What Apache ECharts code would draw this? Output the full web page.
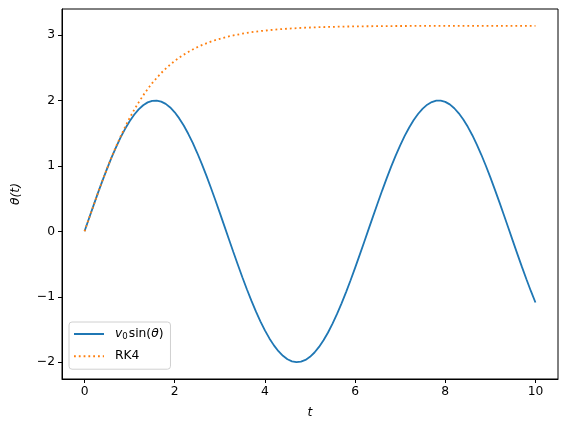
<!DOCTYPE html>
<html>
<head>
<meta charset="utf-8">
<script src="https://cdn.jsdelivr.net/npm/echarts@6/dist/echarts.min.js"></script>
<style>
  html, body { margin: 0; padding: 0; background: #fff; }
  #chart { width: 567px; height: 432px; }
</style>
</head>
<body>
<div id="chart"></div>
<script>
// time samples
const tVals = [0, 0.1, 0.2, 0.3, 0.4, 0.5, 0.6, 0.7, 0.8, 0.9,
  1, 1.1, 1.2, 1.3, 1.4, 1.5, 1.6, 1.7, 1.8, 1.9,
  2, 2.1, 2.2, 2.3, 2.4, 2.5, 2.6, 2.7, 2.8, 2.9,
  3, 3.1, 3.2, 3.3, 3.4, 3.5, 3.6, 3.7, 3.8, 3.9,
  4, 4.1, 4.2, 4.3, 4.4, 4.5, 4.6, 4.7, 4.8, 4.9,
  5, 5.1, 5.2, 5.3, 5.4, 5.5, 5.6, 5.7, 5.8, 5.9,
  6, 6.1, 6.2, 6.3, 6.4, 6.5, 6.6, 6.7, 6.8, 6.9,
  7, 7.1, 7.2, 7.3, 7.4, 7.5, 7.6, 7.7, 7.8, 7.9,
  8, 8.1, 8.2, 8.3, 8.4, 8.5, 8.6, 8.7, 8.8, 8.9,
  9, 9.1, 9.2, 9.3, 9.4, 9.5, 9.6, 9.7, 9.8, 9.9, 10]

// v0 sin(theta) curve
const sinVals = [0, 0.200, 0.397, 0.591, 0.779, 0.959, 1.129, 1.288, 1.435, 1.567,
  1.683, 1.782, 1.864, 1.927, 1.971, 1.995, 1.999, 1.983, 1.948, 1.893,
  1.819, 1.726, 1.617, 1.491, 1.351, 1.197, 1.031, 0.855, 0.670, 0.479,
  0.282, 0.083, -0.117, -0.316, -0.511, -0.702, -0.885, -1.060, -1.224, -1.376,
  -1.514, -1.637, -1.743, -1.832, -1.903, -1.955, -1.987, -2.000, -1.992, -1.965,
  -1.918, -1.852, -1.767, -1.665, -1.546, -1.411, -1.263, -1.101, -0.929, -0.748,
  -0.559, -0.364, -0.166, 0.034, 0.233, 0.430, 0.623, 0.810, 0.988, 1.157,
  1.314, 1.458, 1.587, 1.701, 1.797, 1.876, 1.936, 1.976, 1.997, 1.998,
  1.979, 1.940, 1.881, 1.804, 1.709, 1.597, 1.469, 1.326, 1.170, 1.002,
  0.824, 0.638, 0.446, 0.249, 0.050, -0.150, -0.349, -0.544, -0.733, -0.915, -1.088]

// RK4 curve
const rk4Vals = [0, 0.200, 0.397, 0.591, 0.780, 0.961, 1.134, 1.298, 1.452, 1.597,
  1.732, 1.856, 1.971, 2.077, 2.175, 2.264, 2.345, 2.419, 2.486, 2.548,
  2.604, 2.654, 2.700, 2.742, 2.780, 2.814, 2.845, 2.873, 2.899, 2.922,
  2.943, 2.962, 2.979, 2.994, 3.008, 3.021, 3.032, 3.043, 3.052, 3.061,
  3.068, 3.075, 3.082, 3.087, 3.093, 3.097, 3.101, 3.105, 3.109, 3.112,
  3.115, 3.117, 3.120, 3.122, 3.124, 3.125, 3.127, 3.128, 3.130, 3.131,
  3.132, 3.133, 3.134, 3.134, 3.135, 3.136, 3.136, 3.137, 3.137, 3.138,
  3.138, 3.138, 3.139, 3.139, 3.139, 3.139, 3.140, 3.140, 3.140, 3.140,
  3.140, 3.140, 3.141, 3.141, 3.141, 3.141, 3.141, 3.141, 3.141, 3.141,
  3.141, 3.141, 3.141, 3.141, 3.141, 3.141, 3.141, 3.141, 3.141, 3.141, 3.141]

const xTicks = [0, 2, 4, 6, 8, 10]
const yTicks = [-2, -1, 0, 1, 2, 3]

const font = 'DejaVu Sans'
const fs = 12.3
const minus = (v) => String(v).replace('-', '\u2212')

const chart = echarts.init(document.getElementById('chart'))

chart.setOption({
  animation: false,
  grid: {
    left: 62, right: 9, top: 9, bottom: 53,
    show: true, borderColor: '#000', borderWidth: 1
  },
  legend: {
    left: 69, top: 322,
    orient: 'vertical',
    itemWidth: 30, itemHeight: 14, itemGap: 8.7,
    padding: [6, 7, 7, 4],
    backgroundColor: 'rgba(255,255,255,0.8)',
    borderColor: '#d0d0d0', borderWidth: 1, borderRadius: 3,
    itemStyle: { opacity: 0, borderWidth: 0 },
    data: ['sin', 'RK4'],
    formatter: (name) => name === 'sin'
      ? '{iv|v}{sub|0}{n|sin(}{i|θ}{n|)}'
      : '{nf|RK4}',
    textStyle: {
      fontFamily: font, fontSize: fs, color: '#000',
      rich: {
        iv: { fontFamily: font, fontSize: fs, fontStyle: 'italic', color: '#000', padding: [0, 0, 0, 6] },
        nf: { fontFamily: font, fontSize: fs, color: '#000', padding: [0, 0, 0, 6] },
        i: { fontFamily: font, fontSize: fs, fontStyle: 'italic', color: '#000' },
        n: { fontFamily: font, fontSize: fs, color: '#000' },
        sub: { fontFamily: font, fontSize: 8.6, color: '#000', verticalAlign: 'bottom', padding: [6, 1, 0, 0] }
      }
    }
  },
  xAxis: {
    type: 'value',
    min: -0.5, max: 10.5,
    name: 't',
    nameLocation: 'middle',
    nameGap: 28,
    nameTextStyle: { fontFamily: font, fontSize: fs, fontStyle: 'italic', color: '#000' },
    splitLine: { show: false },
    axisLine: { onZero: false, lineStyle: { color: '#000', width: 1 } },
    axisTick: { show: true, length: 4, lineStyle: { color: '#000' }, customValues: xTicks },
    axisLabel: {
      fontFamily: font, fontSize: fs, color: '#000', margin: 7,
      customValues: xTicks, formatter: minus
    }
  },
  yAxis: {
    type: 'value',
    min: -2.257, max: 3.398,
    name: 'θ(t)',
    nameLocation: 'middle',
    nameGap: 40,
    nameTextStyle: { fontFamily: font, fontSize: fs, fontStyle: 'italic', color: '#000' },
    splitLine: { show: false },
    axisLine: { onZero: false, lineStyle: { color: '#000', width: 1 } },
    axisTick: { show: true, length: 4, lineStyle: { color: '#000' }, customValues: yTicks },
    axisLabel: {
      fontFamily: font, fontSize: fs, color: '#000', margin: 7,
      customValues: yTicks, formatter: minus
    }
  },
  series: [
    {
      name: 'sin',
      type: 'line',
      data: tVals.map((t, i) => [t, sinVals[i]]),
      symbol: 'none',
      color: '#1f77b4',
      lineStyle: { color: '#1f77b4', width: 1.8 }
    },
    {
      name: 'RK4',
      type: 'line',
      data: tVals.map((t, i) => [t, rk4Vals[i]]),
      symbol: 'none',
      color: '#ff7f0e',
      lineStyle: { color: '#ff7f0e', width: 1.8, type: [1.8, 3] }
    }
  ]
})
</script>
</body>
</html>
